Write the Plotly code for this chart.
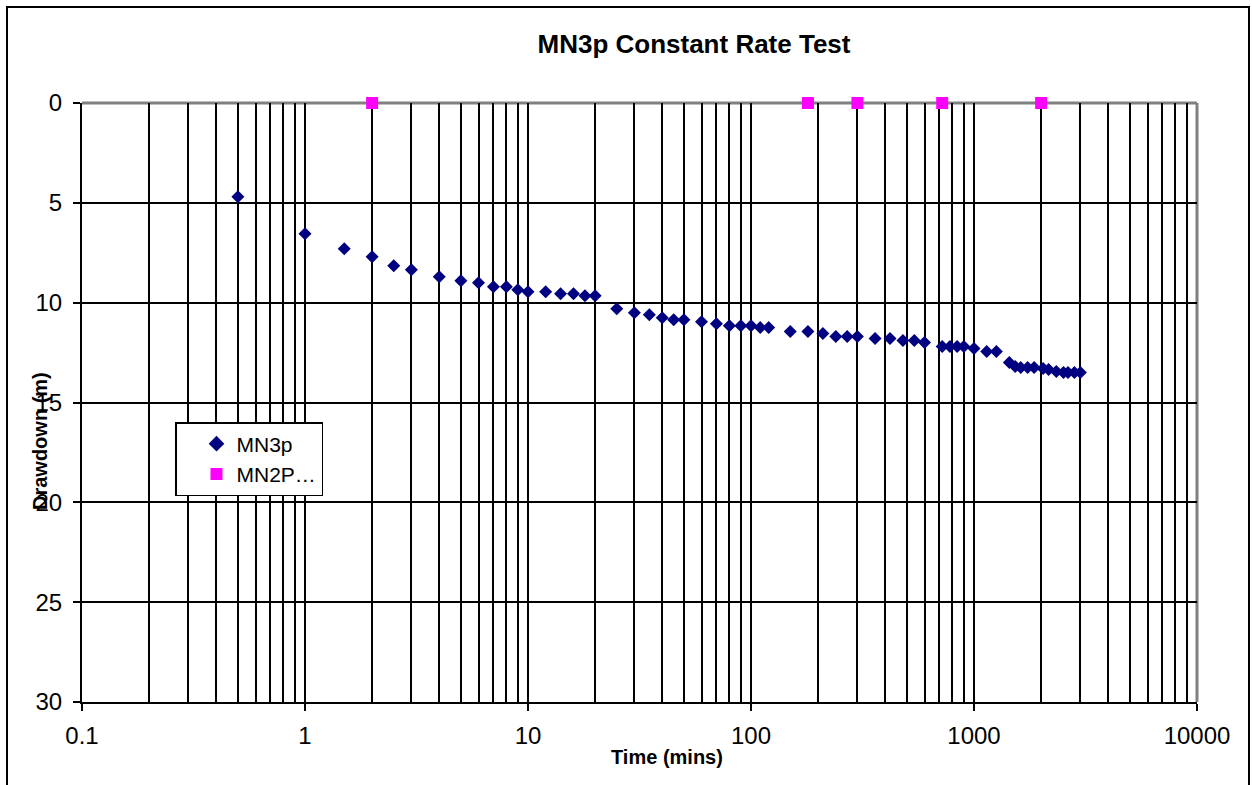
import plotly.graph_objects as go

# ---- data ----
time_mn3p = [0.5, 1, 1.5, 2, 2.5, 3, 4, 5, 6, 7,
             8, 9, 10, 12, 14, 16, 18, 20, 25, 30,
             35, 40, 45, 50, 60, 70, 80, 90, 100, 110,
             120, 150, 180, 210, 240, 270, 300, 360, 420, 480,
             540, 600, 720, 780, 840, 900, 1000, 1140, 1260, 1440,
             1530, 1620, 1740, 1860, 2040, 2160, 2340, 2520, 2640, 2820,
             3000]
drawdown_mn3p = [4.7, 6.55, 7.3, 7.7, 8.15, 8.35, 8.7, 8.9, 9.0, 9.2,
                 9.2, 9.35, 9.45, 9.45, 9.55, 9.55, 9.65, 9.65, 10.3, 10.5,
                 10.6, 10.75, 10.85, 10.85, 10.95, 11.05, 11.15, 11.15, 11.15, 11.25,
                 11.25, 11.45, 11.45, 11.55, 11.7, 11.7, 11.7, 11.8, 11.8, 11.9,
                 11.9, 12.0, 12.2, 12.2, 12.2, 12.2, 12.3, 12.45, 12.45, 13.0,
                 13.2, 13.25, 13.25, 13.25, 13.3, 13.35, 13.45, 13.5, 13.5, 13.5,
                 13.5]
time_mn2p = [2, 180, 300, 720, 2000]
drawdown_mn2p = [0, 0, 0, 0, 0]

x_tickvals = [0.1, 1, 10, 100, 1000, 10000]
x_ticktext = ["0.1", "1", "10", "100", "1000", "10000"]
y_tickvals = [0, 5, 10, 15, 20, 25, 30]

FONT = "Liberation Sans, Arial, sans-serif"

minor_vals = [d * m for d in x_tickvals[:-1] for m in range(2, 10)]

fig = go.Figure()
fig.add_trace(go.Scatter(
    x=time_mn3p, y=drawdown_mn3p, mode="markers", name="MN3p",
    marker=dict(symbol="diamond", size=10, color="#000080",
                line=dict(width=0)),
    cliponaxis=False,
))
fig.add_trace(go.Scatter(
    x=time_mn2p, y=drawdown_mn2p, mode="markers", name="MN2P…",
    marker=dict(symbol="square", size=12, color="#FF00FF",
                line=dict(width=0)),
    cliponaxis=False,
))

fig.update_layout(
    width=1252, height=785,
    margin=dict(l=82, r=55, t=103, b=83),
    paper_bgcolor="white", plot_bgcolor="white",
    font=dict(family=FONT, color="black"),
    title=dict(text="MN3p Constant Rate Test", x=694 / 1252, xref="container",
               xanchor="center", y=1 - 44 / 785, yanchor="middle",
               font=dict(family=FONT, size=26, weight="bold", color="black")),
    showlegend=True,
    legend=dict(x=(175 - 82) / 1115, y=(702 - 422) / 599, xanchor="left",
                yanchor="top", bgcolor="white", bordercolor="black",
                borderwidth=1.5, font=dict(family=FONT, size=21),
                indentation=20, tracegroupgap=0, itemsizing="constant",
                entrywidth=125, entrywidthmode="pixels"),
    xaxis=dict(type="log", range=[-1, 4], tickvals=x_tickvals,
               ticktext=x_ticktext, showgrid=True, gridcolor="black",
               gridwidth=2, showline=True, linecolor="black", linewidth=2,
               ticks="outside", ticklen=7, tickwidth=2, tickcolor="black",
               ticklabelstandoff=4,
               tickfont=dict(family=FONT, size=24), zeroline=False,
               minor=dict(tickvals=minor_vals, showgrid=True,
                          gridcolor="black", gridwidth=2, ticks="")),
    yaxis=dict(range=[30, 0], tickvals=y_tickvals, showgrid=True,
               gridcolor="black", gridwidth=2, showline=True,
               linecolor="black", linewidth=2, ticks="outside", ticklen=7,
               tickwidth=2, tickcolor="black", ticklabelstandoff=6,
               tickfont=dict(family=FONT, size=24), zeroline=False),
    annotations=[
        dict(text="<b>Time (mins)</b>", xref="paper", yref="paper",
             x=(667 - 82) / 1115, y=(702 - 757) / 599, xanchor="center",
             yanchor="middle", showarrow=False,
             font=dict(family=FONT, size=20)),
        dict(text="<b>Drawdown (m)</b>", xref="paper", yref="paper",
             x=(40 - 82) / 1115, y=(702 - 441) / 599, xanchor="center",
             yanchor="middle", showarrow=False, textangle=-90,
             font=dict(family=FONT, size=20)),
    ],
    shapes=[
        # grey top and right plot-area border
        dict(type="line", xref="paper", yref="paper", x0=0, x1=1, y0=1, y1=1,
             line=dict(color="#808080", width=3), layer="below"),
        dict(type="line", xref="paper", yref="paper", x0=1, x1=1, y0=0, y1=1,
             line=dict(color="#808080", width=3), layer="below"),
        # outer chart border
        dict(type="rect", xref="paper", yref="paper",
             x0=(7 - 82) / 1115, x1=(1249 - 82) / 1115,
             y0=(702 - 795) / 599, y1=(702 - 7) / 599,
             line=dict(color="black", width=2), fillcolor="rgba(0,0,0,0)",
             layer="above"),
    ],
)

fig.write_html("out.html")
